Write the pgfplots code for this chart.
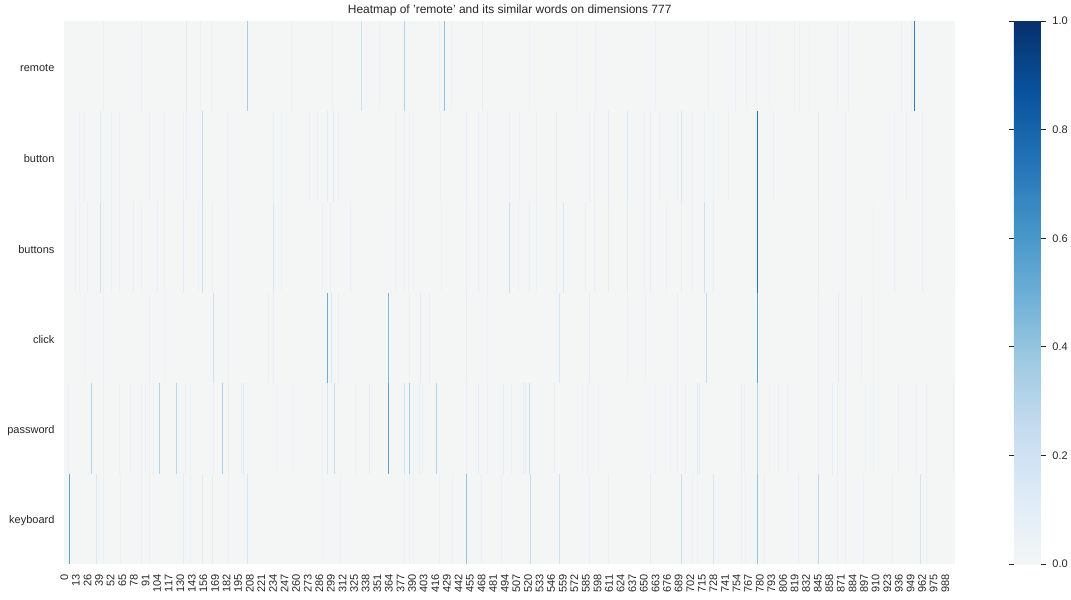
\documentclass[border=0pt]{standalone}
\usepackage{pgfplots}
\pgfplotsset{compat=1.18}
\usepackage{pgfplotstable}
\usepackage{fontspec}
\setmainfont{Liberation Sans}
\definecolor{txt}{RGB}{38,38,38}
\definecolor{bg}{RGB}{244,246,246}

% columns: dimension index, value ; one table per word (row)
\pgfplotstableread[row sep=\\]{x v\\
44 .06\\ 87 .06\\ 137 .12\\ 153 .06\\ 165 .06\\ 205 .35\\ 255 .06\\ 301 .06\\ 333 .2\\ 353 .05\\ 382 .3\\ 421 .06\\ 426 .4\\ 434 .05\\ 469 .1\\ 522 .05\\ 574 .04\\ 596 .05\\ 663 .05\\ 723 .06\\ 753 .05\\ 765 .05\\ 776 .05\\ 791 .04\\ 819 .06\\ 824 .05\\ 836 .04\\ 867 .05\\ 879 .05\\ 939 .06\\ 950 .06\\ 953 .7\\
}\remote
\pgfplotstableread[row sep=\\]{x v\\
17 .05\\ 23 .05\\ 40 .12\\ 53 .05\\ 62 .05\\ 96 .05\\ 112 .05\\ 134 .07\\ 137 .05\\ 155 .25\\ 183 .05\\ 235 .07\\ 243 .05\\ 275 .05\\ 284 .05\\ 295 .12\\ 302 .12\\ 307 .05\\ 371 .06\\ 382 .06\\ 387 .06\\ 392 .05\\ 422 .07\\ 451 .08\\ 464 .06\\ 475 .05\\ 499 .05\\ 510 .05\\ 529 .05\\ 552 .1\\ 589 .06\\ 595 .06\\ 610 .12\\ 632 .15\\ 651 .06\\ 657 .08\\ 667 .05\\ 688 .05\\ 692 .15\\ 704 .05\\ 718 .06\\ 728 .05\\ 745 .05\\ 777 .75\\ 795 .05\\ 846 .12\\ 876 .05\\ 931 .05\\ 944 .05\\ 963 .05\\
}\button
\pgfplotstableread[row sep=\\]{x v\\
13 .05\\ 17 .05\\ 26 .05\\ 40 .2\\ 44 .05\\ 53 .05\\ 62 .05\\ 77 .07\\ 87 .05\\ 105 .07\\ 112 .06\\ 134 .12\\ 150 .05\\ 155 .2\\ 166 .06\\ 184 .05\\ 235 .15\\ 243 .05\\ 290 .05\\ 298 .05\\ 321 .06\\ 371 .05\\ 381 .05\\ 386 .05\\ 392 .05\\ 423 .05\\ 451 .06\\ 464 .07\\ 475 .05\\ 499 .22\\ 509 .05\\ 522 .07\\ 529 .05\\ 552 .08\\ 560 .15\\ 585 .06\\ 595 .07\\ 610 .1\\ 632 .12\\ 651 .05\\ 657 .08\\ 675 .05\\ 692 .08\\ 704 .05\\ 718 .2\\ 728 .07\\ 777 .75\\ 846 .1\\ 876 .05\\ 908 .04\\ 931 .06\\ 962 .06\\ 998 .04\\
}\buttons
\pgfplotstableread[row sep=\\]{x v\\
23 .04\\ 44 .05\\ 96 .05\\ 113 .04\\ 167 .2\\ 184 .05\\ 229 .07\\ 235 .07\\ 295 .5\\ 300 .15\\ 307 .06\\ 363 .45\\ 387 .06\\ 399 .12\\ 409 .06\\ 451 .1\\ 475 .04\\ 555 .15\\ 589 .1\\ 632 .05\\ 652 .05\\ 688 .06\\ 720 .25\\ 777 .55\\ 846 .05\\ 868 .1\\ 876 .06\\ 894 .05\\ 907 .05\\
}\click
\pgfplotstableread[row sep=\\]{x v\\
5 .05\\ 30 .3\\ 44 .07\\ 62 .07\\ 74 .06\\ 87 .05\\ 91 .06\\ 96 .06\\ 100 .07\\ 107 .3\\ 126 .28\\ 136 .07\\ 142 .05\\ 167 .06\\ 177 .32\\ 184 .1\\ 199 .06\\ 201 .12\\ 238 .04\\ 257 .04\\ 290 .05\\ 295 .15\\ 303 .22\\ 327 .06\\ 342 .1\\ 363 .55\\ 382 .18\\ 387 .35\\ 392 .06\\ 398 .1\\ 402 .06\\ 417 .3\\ 451 .07\\ 464 .1\\ 475 .05\\ 493 .1\\ 501 .06\\ 515 .1\\ 517 .08\\ 522 .22\\ 550 .08\\ 581 .05\\ 587 .06\\ 599 .05\\ 663 .04\\ 680 .05\\ 688 .07\\ 697 .06\\ 710 .1\\ 712 .12\\ 759 .08\\ 763 .06\\ 777 .3\\ 791 .05\\ 801 .06\\ 811 .05\\ 846 .06\\ 861 .08\\ 867 .07\\ 876 .07\\ 898 .05\\ 908 .05\\ 935 .05\\ 956 .06\\ 967 .07\\ 997 .06\\
}\password
\pgfplotstableread[row sep=\\]{x v\\
6 .55\\ 36 .15\\ 44 .06\\ 63 .05\\ 87 .06\\ 96 .05\\ 134 .1\\ 142 .05\\ 155 .12\\ 166 .1\\ 184 .05\\ 205 .15\\ 290 .04\\ 310 .05\\ 381 .05\\ 387 .06\\ 392 .05\\ 421 .06\\ 435 .05\\ 451 .4\\ 468 .06\\ 490 .05\\ 523 .25\\ 555 .2\\ 589 .07\\ 610 .06\\ 657 .1\\ 692 .22\\ 704 .05\\ 710 .05\\ 728 .15\\ 759 .05\\ 764 .05\\ 777 .4\\ 785 .06\\ 823 .08\\ 846 .28\\ 867 .05\\ 876 .05\\ 896 .05\\ 929 .06\\ 960 .18\\ 967 .05\\
}\keyboard

\pgfplotsset{
  spike/.style={scatter, only marks, mark=|, mark size=45.33pt,
    mark options={line width=0.95pt},
    point meta=explicit,
    scatter/use mapped color={draw=mapped color}},
}

\begin{document}
\begin{tikzpicture}
\path (0pt,0pt) rectangle (1071pt,600pt);
\begin{axis}[
  at={(64pt,35pt)}, anchor=south west,
  scale only axis, width=893pt, height=544pt,
  xmin=0, xmax=1000, ymin=0, ymax=6, y dir=reverse,
  axis line style={draw=none},
  major tick length=0pt,
  axis background/.style={fill=bg},
  xtick={0.5,13.5,...,988.5},
  xticklabels={0,13,26,39,52,65,78,91,104,117,130,143,156,169,182,195,208,221,234,247,260,273,286,299,312,325,338,351,364,377,390,403,416,429,442,455,468,481,494,507,520,533,546,559,572,585,598,611,624,637,650,663,676,689,702,715,728,741,754,767,780,793,806,819,832,845,858,871,884,897,910,923,936,949,962,975,988},
  xticklabel shift=7pt,
  xticklabel style={rotate=90, anchor=east, font=\fontsize{11}{13}\selectfont, text=txt},
  ytick={0.5,1.5,2.5,3.5,4.5,5.5},
  yticklabels={remote,button,buttons,click,password,keyboard},
  yticklabel style={font=\fontsize{11}{13}\selectfont, text=txt, xshift=-6pt, yshift=-2pt},
  colormap={sbblues}{rgb255=(244,246,246) rgb255=(222,235,247) rgb255=(198,219,239) rgb255=(158,202,225) rgb255=(107,174,214) rgb255=(66,146,198) rgb255=(33,113,181) rgb255=(8,81,156) rgb255=(8,48,107)},
  point meta min=0, point meta max=1,
  colorbar,
  colorbar/width=27pt,
  colorbar style={
    at={(parent axis.south east)}, anchor=south west, xshift=50pt,
    scale only axis, width=27pt, height=544pt,
    axis line style={draw=none},
    ytick={0,0.2,0.4,0.6,0.8,1},
    yticklabel pos=right,
    tick align=outside, major tick length=5pt,
    tick style={draw=txt, line width=0.8pt},
    yticklabel style={font=\fontsize{11}{13}\selectfont, text=txt, xshift=3pt,
      /pgf/number format/.cd, fixed, fixed zerofill, precision=1, assume math mode=true},
  },
  title={Heatmap of 'remote' and its similar words on dimensions 777},
  title style={font=\fontsize{12}{14}\selectfont, text=txt, at={(0.5,1)}, anchor=base, inner sep=0pt, yshift=1pt},
]
\addplot[spike] table[x expr=\thisrow{x}+0.5, y expr=0.5, meta=v] \remote;
\addplot[spike] table[x expr=\thisrow{x}+0.5, y expr=1.5, meta=v] \button;
\addplot[spike] table[x expr=\thisrow{x}+0.5, y expr=2.5, meta=v] \buttons;
\addplot[spike] table[x expr=\thisrow{x}+0.5, y expr=3.5, meta=v] \click;
\addplot[spike] table[x expr=\thisrow{x}+0.5, y expr=4.5, meta=v] \password;
\addplot[spike] table[x expr=\thisrow{x}+0.5, y expr=5.5, meta=v] \keyboard;
\end{axis}
\end{tikzpicture}
\end{document}
